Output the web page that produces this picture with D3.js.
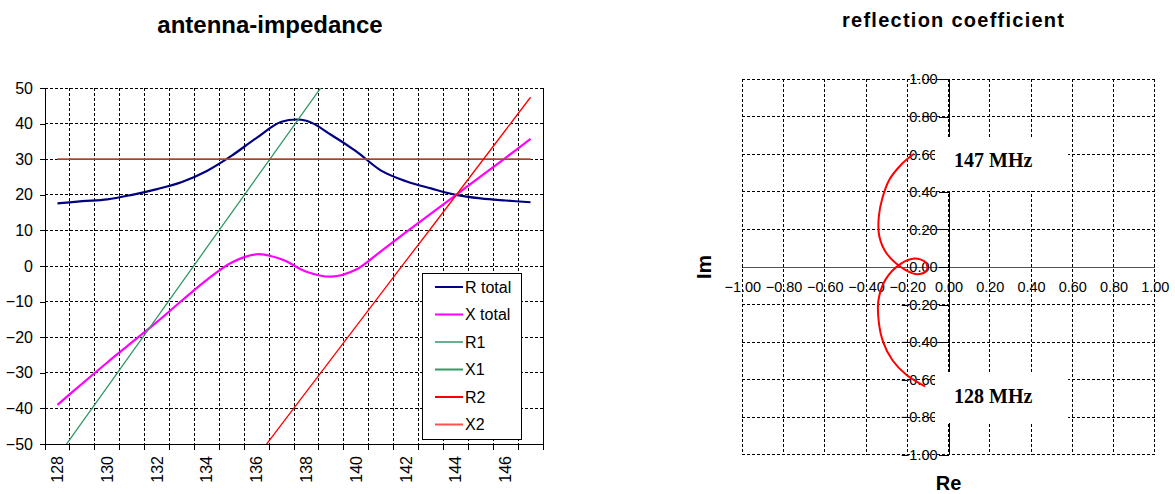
<!DOCTYPE html>
<html lang="en">
<head>
<meta charset="utf-8">
<title>antenna-impedance / reflection coefficient</title>
<script src="https://cdn.jsdelivr.net/npm/d3@7"></script>
<style>
  body { margin:0; background:#fff; font-family:"Liberation Sans", Arial, sans-serif; }
  .grid line { stroke:#000; stroke-dasharray:3,2; stroke-width:1; shape-rendering:crispEdges; }
  .axis text { font-family:"Liberation Sans", Arial, sans-serif; fill:#000; }
</style>
</head>
<body>
<script>
// frequency categories (MHz)
var freqs = [128,129,130,131,132,133,134,135,136,137,138,139,140,141,142,143,144,145,146,147];
var freqLabels = [128,130,132,134,136,138,140,142,144,146];

// impedance series (ohm)
var rTotal = [17.6,18.2,18.7,20.0,21.6,23.6,26.7,31.0,36.0,40.5,40.8,36.8,32.2,26.8,23.8,21.8,20.0,19.0,18.4,17.9];
var xTotal = [-39.0,-33.0,-27.1,-21.4,-15.7,-9.7,-3.9,1.0,3.3,1.9,-1.6,-3.0,-1.0,4.2,9.5,14.7,19.9,25.2,30.4,35.7];
var r1 = [30,30,30,30,30,30,30,30,30,30,30,30,30,30,30,30,30,30,30,30];
var x1 = [-53.6,-43.8,-34.0,-24.2,-14.4,-4.6,5.2,15.0,24.8,34.6,44.4,54.2,64.0,73.8,83.6,93.4,103.2,113.0,122.8,132.6];
var r2 = [30,30,30,30,30,30,30,30,30,30,30,30,30,30,30,30,30,30,30,30];
var x2 = [-127.2,-118.0,-108.8,-99.6,-90.4,-81.3,-72.1,-62.9,-53.7,-44.5,-35.3,-26.1,-16.9,-7.7,1.5,10.6,19.8,29.0,38.2,47.4];
var impTicks = [-50,-40,-30,-20,-10,0,10,20,30,40,50];

// reflection coefficient, 128 .. 147 MHz
var gammaRe = [-0.114,-0.205,-0.272,-0.317,-0.338,-0.340,-0.305,-0.234,-0.165,-0.110,-0.106,-0.148,-0.210,-0.300,-0.336,-0.338,-0.320,-0.287,-0.230,-0.168];
var gammaIm = [-0.636,-0.574,-0.497,-0.400,-0.295,-0.178,-0.066,0.015,0.045,0.024,-0.018,-0.038,-0.015,0.072,0.165,0.270,0.370,0.465,0.545,0.603];
var gammaTicks = [-1,-0.8,-0.6,-0.4,-0.2,0,0.2,0.4,0.6,0.8,1];

var series = [
  {name:"R total", values:rTotal, color:"#000080", width:2.2, smooth:true, legend:"#000080"},
  {name:"X total", values:xTotal, color:"#ff00ff", width:2.2, smooth:true, legend:"#ff00ff"},
  {name:"R1", values:r1, color:"#339966", width:1.3, smooth:false, legend:"#66b08c"},
  {name:"X1", values:x1, color:"#339966", width:1.3, smooth:false, legend:"#339966"},
  {name:"R2", values:r2, color:"#e0281c", width:1.5, smooth:false, legend:"#ff0000"},
  {name:"X2", values:x2, color:"#ff0000", width:1.3, smooth:false, legend:"#ff5050"}
];

var w = 1175, h = 494;
var svg = d3.select("body").append("svg").attr("width", w).attr("height", h);

//---------------- left chart: antenna-impedance
var L = {left:45, right:543, top:88, bottom:444};
var xBand = d3.scaleBand().domain(freqs).range([L.left, L.right]);
var xPos = function(f) { return xBand(f) + xBand.bandwidth() / 2; };
var yImp = d3.scaleLinear().domain([-50, 50]).range([L.bottom, L.top]);

svg.append("text")
   .attr("x", 270).attr("y", 33)
   .attr("text-anchor", "middle")
   .attr("font-size", "24px").attr("font-weight", "bold")
   .text("antenna-impedance");

var gl = svg.append("g").attr("class", "grid");
gl.selectAll("line.h").data(impTicks.slice(1)).enter().append("line")
  .attr("x1", L.left).attr("x2", L.right)
  .attr("y1", function(d) { return yImp(d); }).attr("y2", function(d) { return yImp(d); });
gl.selectAll("line.v").data(freqs.slice(1)).enter().append("line")
  .attr("x1", function(d) { return xBand(d); }).attr("x2", function(d) { return xBand(d); })
  .attr("y1", L.top).attr("y2", L.bottom);

// right frame edge
svg.append("line").attr("x1", L.right).attr("x2", L.right).attr("y1", L.top).attr("y2", L.bottom + 6)
   .attr("stroke", "#000").attr("shape-rendering", "crispEdges");

// y axis
var yAxis = d3.axisLeft(yImp).tickValues(impTicks).tickSize(5).tickPadding(7);
var ya = svg.append("g").attr("class", "axis")
   .attr("transform", "translate(" + L.left + ",0)")
   .call(yAxis);
ya.selectAll("text").attr("font-size", "16px");
ya.selectAll("path,line").attr("stroke", "#000").attr("shape-rendering", "crispEdges");

// x axis: ticks on category boundaries, labels centred
var xa = svg.append("g").attr("class", "axis");
xa.append("line").attr("x1", L.left).attr("x2", L.right).attr("y1", L.bottom).attr("y2", L.bottom)
  .attr("stroke", "#000").attr("shape-rendering", "crispEdges");
xa.selectAll("line.tk").data(freqs.concat(["end"])).enter().append("line")
  .attr("x1", function(d) { return d === "end" ? L.right : xBand(d); })
  .attr("x2", function(d) { return d === "end" ? L.right : xBand(d); })
  .attr("y1", L.bottom).attr("y2", L.bottom + 6)
  .attr("stroke", "#000").attr("shape-rendering", "crispEdges");
xa.selectAll("text").data(freqLabels).enter().append("text")
  .attr("transform", function(d) { return "translate(" + xPos(d) + "," + (L.bottom + 12) + ") rotate(-90)"; })
  .attr("text-anchor", "end").attr("dy", "0.35em")
  .attr("font-size", "16px")
  .text(function(d) { return d; });

// series
svg.append("clipPath").attr("id", "clipL").append("rect")
   .attr("x", L.left).attr("y", L.top).attr("width", L.right - L.left).attr("height", L.bottom - L.top);

series.forEach(function(s) {
  var line = d3.line()
    .x(function(d, i) { return xPos(freqs[i]); })
    .y(function(d) { return yImp(d); })
    .curve(s.smooth ? d3.curveCatmullRom : d3.curveLinear);
  svg.append("path")
     .datum(s.values)
     .attr("clip-path", "url(#clipL)")
     .attr("fill", "none")
     .attr("stroke", s.color)
     .attr("stroke-width", s.width)
     .attr("d", line);
});

// legend
var lg = svg.append("g").attr("transform", "translate(422,273)");
lg.append("rect").attr("width", 99).attr("height", 166)
  .attr("fill", "#fff").attr("stroke", "#000").attr("shape-rendering", "crispEdges");
var items = lg.selectAll("g").data(series).enter().append("g")
  .attr("transform", function(d, i) { return "translate(0," + (14 + i * 27.5) + ")"; });
items.append("line").attr("x1", 13).attr("x2", 41)
  .attr("stroke", function(d) { return d.legend; }).attr("stroke-width", 2);
items.append("text").attr("x", 43).attr("dy", "0.35em")
  .attr("font-size", "16px")
  .text(function(d) { return d.name; });

//---------------- right chart: reflection coefficient
var R = {left:742.3, right:1154.8, top:79.3, bottom:454.7};
var xRe = d3.scaleLinear().domain([-1, 1]).range([R.left, R.right]);
var yIm = d3.scaleLinear().domain([-1, 1]).range([R.bottom, R.top]);
var fmt = d3.format(".2f");

svg.append("text")
   .attr("x", 953).attr("y", 27)
   .attr("text-anchor", "middle")
   .attr("font-size", "20px").attr("font-weight", "bold")
   .attr("textLength", 222).attr("lengthAdjust", "spacing")
   .text("reflection coefficient");

var gr = svg.append("g").attr("class", "grid");
gr.selectAll("line.h").data(gammaTicks).enter().append("line")
  .attr("x1", R.left).attr("x2", R.right)
  .attr("y1", function(d) { return yIm(d); }).attr("y2", function(d) { return yIm(d); });
gr.selectAll("line.v").data(gammaTicks).enter().append("line")
  .attr("x1", function(d) { return xRe(d); }).attr("x2", function(d) { return xRe(d); })
  .attr("y1", R.top).attr("y2", R.bottom);

// horizontal axis through 0
var reAxis = d3.axisBottom(xRe).tickValues(gammaTicks).tickFormat(fmt).tickSize(0).tickPadding(15);
var ra = svg.append("g").attr("class", "axis")
   .attr("transform", "translate(0," + yIm(0) + ")")
   .call(reAxis);
ra.select("path").attr("stroke", "#555").attr("shape-rendering", "crispEdges");
ra.selectAll("text").attr("font-size", "14.5px");

// vertical axis through 0
var imAxis = d3.axisLeft(yIm).tickValues(gammaTicks).tickFormat(fmt).tickSize(10).tickPadding(1).tickSizeOuter(0);
var ia = svg.append("g").attr("class", "axis")
   .attr("transform", "translate(" + xRe(0) + ",0)")
   .call(imAxis);
ia.selectAll("path,line").attr("stroke", "#000").attr("shape-rendering", "crispEdges");
ia.selectAll("text").attr("font-size", "14.5px");

// label boxes
var boxes = [
  {text:"147 MHz", y0:137, y1:191, base:167},
  {text:"128 MHz", y0:372, y1:423, base:403}
];
svg.selectAll("rect.box").data(boxes).enter().append("rect")
   .attr("x", 935).attr("y", function(d) { return d.y0; })
   .attr("width", 133).attr("height", function(d) { return d.y1 - d.y0; })
   .attr("fill", "#fff");
svg.selectAll("text.box").data(boxes).enter().append("text")
   .attr("x", 954).attr("y", function(d) { return d.base; })
   .attr("font-family", "'Liberation Serif', 'Times New Roman', serif")
   .attr("font-weight", "bold").attr("font-size", "20px")
   .text(function(d) { return d.text; });

// gamma curve
var gLine = d3.line()
  .x(function(d, i) { return xRe(gammaRe[i]); })
  .y(function(d, i) { return yIm(gammaIm[i]); })
  .curve(d3.curveCatmullRom);
svg.append("path")
   .datum(freqs)
   .attr("fill", "none")
   .attr("stroke", "#ff0000")
   .attr("stroke-width", 2)
   .attr("d", gLine);

// axis titles
svg.append("text")
   .attr("transform", "translate(704," + yIm(0) + ") rotate(-90)")
   .attr("text-anchor", "middle").attr("dy", "0.35em")
   .attr("font-size", "21px").attr("font-weight", "bold")
   .text("Im");
svg.append("text")
   .attr("x", xRe(0)).attr("y", 490)
   .attr("text-anchor", "middle")
   .attr("font-size", "20px").attr("font-weight", "bold")
   .text("Re");
</script>
</body>
</html>
